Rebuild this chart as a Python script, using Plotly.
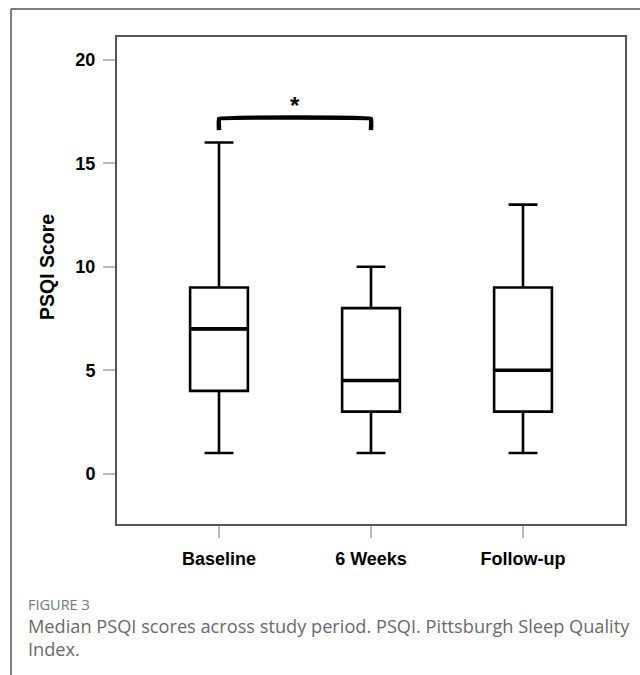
import plotly.graph_objects as go

# ---- data ----
categories = ["Baseline", "6 Weeks", "Follow-up"]
x_pos = [0, 1, 2]
q_min = [1, 1, 1]
q1 = [4, 3, 3]
median = [7, 4.5, 5]
q3 = [9, 8, 9]
q_max = [16, 10, 13]
y_ticks = [0, 5, 10, 15, 20]

# significance bracket between Baseline and 6 Weeks
bracket_pair = [0, 1]
bracket_top = 17.15
bracket_foot = 16.6
sig_label = "*"

caption_head = "FIGURE 3"
caption_line1 = "Median PSQI scores across study period. PSQI. Pittsburgh Sleep Quality"
caption_line2 = "Index."

# ---- layout geometry (pixels) ----
W, H = 640, 675
L, R, T, B = 117, 625, 37, 524
BOX_W = 0.38


def px_x(px):
    return (px - L) / (R - L)


def px_y(py):
    return (B - py) / (B - T)


fig = go.Figure()

fig.add_trace(go.Box(
    x=x_pos,
    q1=q1, median=median, q3=q3,
    lowerfence=q_min, upperfence=q_max,
    width=BOX_W,
    whiskerwidth=0.5,
    fillcolor="white",
    line=dict(color="black", width=2.6),
    boxpoints=False,
    hoverinfo="skip",
    showlegend=False,
))

# thicker median lines
for xi, m in zip(x_pos, median):
    fig.add_trace(go.Scatter(
        x=[xi - BOX_W / 2, xi + BOX_W / 2], y=[m, m],
        mode="lines", line=dict(color="black", width=3.6),
        hoverinfo="skip", showlegend=False,
    ))

# bracket
a, b = bracket_pair
fig.add_trace(go.Scatter(
    x=[a, a, b, b], y=[bracket_foot, bracket_top, bracket_top, bracket_foot],
    mode="lines", line=dict(color="black", width=4.5, shape="spline", smoothing=0.15),
    hoverinfo="skip", showlegend=False,
))
fig.add_annotation(
    x=(a + b) / 2, y=bracket_top + 0.65, text=sig_label, showarrow=False,
    font=dict(family="Liberation Sans, Arial", size=24, color="black", weight="bold"),
    xanchor="center", yanchor="middle",
)

axis_font = dict(family="Liberation Sans, Arial", size=18, color="black", weight="bold")

fig.update_xaxes(
    range=[-0.671, 2.671],
    tickvals=x_pos, ticktext=categories,
    showline=True, linecolor="#555", linewidth=2, mirror=True,
    ticks="outside", ticklen=12, tickcolor="#bbb", tickwidth=1.5,
    tickfont=axis_font, ticklabelstandoff=5,
    showgrid=False, zeroline=False,
)
fig.update_yaxes(
    range=[-2.43, 21.1],
    tickvals=y_ticks,
    showline=True, linecolor="#555", linewidth=2, mirror=True,
    ticks="outside", ticklen=12, tickcolor="#bbb", tickwidth=1.5,
    tickfont=axis_font, ticklabelstandoff=4,
    showgrid=False, zeroline=False,
)

# y axis title
fig.add_annotation(
    xref="paper", yref="paper", x=px_x(47), y=px_y(267),
    text="PSQI Score", textangle=-90, showarrow=False,
    font=dict(family="Liberation Sans, Arial", size=19.5, color="black", weight="bold"),
    xanchor="center", yanchor="middle",
)

# caption
cap_font = dict(family="Open Sans, Lato", size=18.2, color="#6a6a6a")
fig.add_annotation(
    xref="paper", yref="paper", x=px_x(26), y=px_y(616),
    text=caption_head, showarrow=False,
    font=dict(family="Open Sans, Lato", size=14.5, color="#777"),
    xanchor="left", yanchor="bottom",
)
fig.add_annotation(
    xref="paper", yref="paper", x=px_x(26), y=px_y(626),
    text=caption_line1, showarrow=False, font=cap_font,
    xanchor="left", yanchor="middle",
)
fig.add_annotation(
    xref="paper", yref="paper", x=px_x(26), y=px_y(649),
    text=caption_line2, showarrow=False, font=cap_font,
    xanchor="left", yanchor="middle",
)

# outer card border (top and left)
border = dict(color="#555", width=1.5)
fig.add_shape(type="line", xref="paper", yref="paper",
              x0=px_x(11), x1=px_x(641), y0=px_y(9), y1=px_y(9), line=border)
fig.add_shape(type="line", xref="paper", yref="paper",
              x0=px_x(11), x1=px_x(11), y0=px_y(9), y1=px_y(676), line=border)

fig.update_layout(
    width=W, height=H,
    margin=dict(l=L, r=W - R, t=T, b=H - B),
    plot_bgcolor="white", paper_bgcolor="white",
    showlegend=False,
)

fig.write_html(
    "out.html",
    config={"displayModeBar": False},
    post_script="document.body.style.margin='0';document.body.style.padding='0';",
)
